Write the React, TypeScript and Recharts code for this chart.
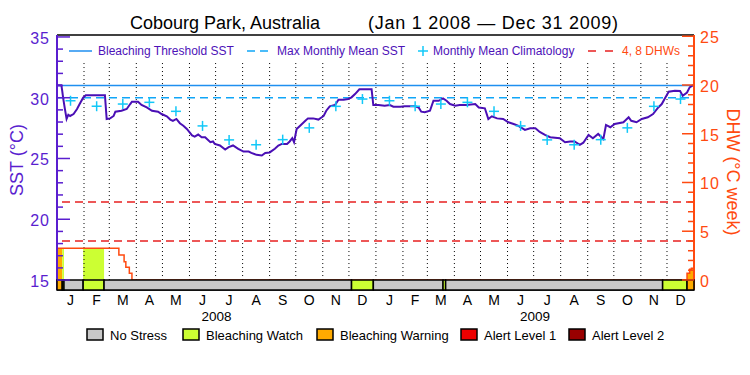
import React from "react";
import {
  Area,
  ComposedChart,
  Line,
  ReferenceArea,
  ReferenceLine,
  XAxis,
  YAxis,
} from "recharts";

// calendar
const monthLetters = ["J", "F", "M", "A", "M", "J", "J", "A", "S", "O", "N", "D"];
const monthDays2008 = [31, 29, 31, 30, 31, 30, 31, 31, 30, 31, 30, 31];
const monthDays2009 = [31, 28, 31, 30, 31, 30, 31, 31, 30, 31, 30, 31];
const yearLabels = ["2008", "2009"];

// daily SST (day offset from Jan 1 2008)
const sstDays = [
  0, 5, 6, 7, 9, 11, 13, 15, 19, 23, 26, 30, 33, 55, 57, 61, 65, 67, 74, 80, 84, 86, 93, 97,
  103, 109, 116, 120, 126, 130, 133, 137, 141, 145, 149, 155, 158, 162, 166, 170, 176, 179,
  181, 187, 193, 197, 202, 208, 214, 220, 223, 229, 235, 239, 244, 250, 254, 258, 264, 267,
  270, 272, 275, 279, 285, 288, 294, 300, 306, 309, 313, 319, 323, 329, 334, 338, 342, 347,
  361, 363, 369, 376, 382, 386, 394, 399, 411, 415, 418, 422, 428, 432, 438, 443, 447, 451,
  457, 462, 470, 480, 484, 491, 495, 499, 505, 512, 518, 524, 529, 537, 543, 549, 554, 560,
  566, 577, 583, 589, 594, 600, 604, 610, 615, 621, 627, 630, 635, 640, 650, 656, 659, 665,
  671, 678, 684, 690, 694, 698, 702, 709, 715, 718, 723, 726, 730,
];
const sstValues = [
  31.03, 31.03, 30.57, 30.0, 29.1, 28.25, 28.6, 28.5, 28.66, 29.07, 29.48, 30.0, 30.2, 30.2,
  28.25, 28.3, 28.5, 28.85, 28.93, 29.07, 29.48, 29.67, 29.67, 29.4, 29.2, 28.93, 28.85,
  28.66, 28.47, 28.2, 28.1, 28.25, 27.9, 27.7, 27.43, 26.9, 26.8, 26.97, 26.75, 26.75, 26.34,
  26.4, 26.2, 26.07, 25.74, 25.93, 26.07, 25.8, 25.57, 25.57, 25.46, 25.3, 25.25, 25.46, 25.5,
  25.8, 26.07, 26.2, 26.2, 26.4, 26.67, 26.34, 27.43, 27.7, 28.1, 28.3, 28.3, 28.2, 28.5,
  28.93, 29.29, 29.4, 29.84, 29.84, 29.9, 30.03, 30.3, 30.7, 30.7, 29.4, 29.4, 29.34, 29.4,
  29.26, 29.26, 29.3, 29.3, 29.2, 28.85, 28.8, 28.93, 29.75, 29.75, 29.95, 29.75, 29.48,
  29.34, 29.4, 29.4, 29.48, 29.2, 29.13, 28.25, 28.47, 28.3, 28.25, 27.98, 27.84, 27.7,
  27.35, 27.48, 27.48, 27.18, 26.94, 26.75, 26.67, 26.34, 26.4, 26.4, 26.12, 26.3, 26.94,
  26.67, 27.02, 26.6, 27.76, 27.57, 27.84, 27.98, 28.39, 28.1, 27.98, 28.25, 28.39, 28.66,
  29.2, 29.48, 30.0, 30.5, 30.57, 30.55, 30.16, 30.43, 30.85, 31.03,
];

// monthly mean climatology, Jan..Dec
const climatology = [29.75, 29.3, 29.48, 29.62, 28.88, 27.68, 26.53, 26.13, 26.55, 27.52, 29.29, 29.89];

// degree heating weeks
const dhwDays = [0, 71, 77, 79, 83, 86, 723, 726, 728, 731];
const dhwValues = [3.25, 2.56, 1.88, 1.3, 0.69, 0, 0.69, 1.1, 1.2, 1.2];

// stress level periods (start day, level 0..4)
const stressStart = [0, 6, 8, 30, 54, 338, 363, 443, 446, 695, 723];
const stressLevel = [2, 1, 0, 1, 0, 1, 0, 1, 0, 1, 2];
const stressNames = ["No Stress", "Bleaching Watch", "Bleaching Warning", "Alert Level 1", "Alert Level 2"];

const bleachingThreshold = 31.0;
const maxMonthlyMean = 30.0;
const dhwLines = [4, 8];

const sstTicks = [15, 16, 17, 18, 19, 20, 21, 22, 23, 24, 25, 26, 27, 28, 29, 30, 31, 32, 33, 34, 35];
const dhwTicks = [0, 1, 2, 3, 4, 5, 6, 7, 8, 9, 10, 11, 12, 13, 14, 15, 16, 17, 18, 19, 20, 21, 22, 23, 24, 25];

// styling / layout
const W = 750;
const H = 375;
const DAYS = 731;
const SST_MIN = 14.18;
const SST_MAX = 35.16;
const DHW_MIN = -1.03;
const DHW_MAX = 25.13;
const DOT_TOP = 32.86;
const FONT = "'Liberation Sans', Arial, sans-serif";

const PURPLE = "#5a1ecf";
const SST_LINE = "#4a0fb5";
const LEGEND_PURPLE = "#4d12b8";
const BLUE = "#1f8ff0";
const MMM_BLUE = "#10a6f8";
const CYAN = "#12c8f8";
const ORANGE_RED = "#ff4a10";
const RED = "#e82020";
const stressColors = ["#c8c8c8", "#ccff33", "#ffaa00", "#ee0000", "#990000"];

const monthLengths = [...monthDays2008, ...monthDays2009];
const monthStarts = monthLengths.map((_, i) => monthLengths.slice(0, i).reduce((a, b) => a + b, 0));
const monthMids = monthStarts.map((s, i) => s + monthLengths[i] / 2);
const yearLen = [monthDays2008, monthDays2009].map((m) => m.reduce((a, b) => a + b, 0));
const yearMids = [yearLen[0] / 2, yearLen[0] + yearLen[1] / 2];

const sstData = sstDays.map((d, i) => ({ day: d, sst: sstValues[i] }));
const climData = monthMids.map((d, i) => ({ day: d, clim: climatology[i % 12] }));
const dhwData = dhwDays.map((d, i) => ({ day: d, dhw: dhwValues[i] }));

function dhwAt(day: number, inclusive: boolean) {
  let v = dhwValues[0];
  dhwDays.forEach((d, i) => {
    if (inclusive ? d <= day : d < day) v = dhwValues[i];
  });
  return v;
}

const stressPeriods = stressStart.map((s, i) => {
  const e = i + 1 < stressStart.length ? stressStart[i + 1] : DAYS;
  return { start: s, end: e, level: stressLevel[i] };
});

// colour under the DHW curve where stress level > 0
const stressFills = stressPeriods
  .filter((p) => p.level > 0)
  .map((p) => ({
    level: p.level,
    data: [
      { day: p.start, dhw: dhwAt(p.start, true) },
      ...dhwDays.filter((d) => d > p.start && d < p.end).map((d) => ({ day: d, dhw: dhwAt(d, true) })),
      { day: p.end, dhw: dhwAt(p.end, false) },
    ],
  }));

function SstTick(props: any) {
  const { x, y, payload } = props;
  const major = payload.value % 5 === 0;
  return (
    <g>
      <line x1={x + 7} x2={x + 7 + (major ? 13 : 6)} y1={y} y2={y} stroke={PURPLE} strokeWidth={1.5} />
      {major && (
        <text x={x} y={y + 7} textAnchor="end" fill={PURPLE} fontSize={16} fontFamily={FONT} letterSpacing={1}>
          {payload.value}
        </text>
      )}
    </g>
  );
}

function DhwTick(props: any) {
  const { x, y, payload } = props;
  const major = payload.value % 5 === 0;
  return (
    <g>
      <line x1={x - 6 - (major ? 12 : 6)} x2={x - 6} y1={y} y2={y} stroke={ORANGE_RED} strokeWidth={1.5} />
      {major && (
        <text x={x} y={y + 7} textAnchor="start" fill={ORANGE_RED} fontSize={16} fontFamily={FONT} letterSpacing={1}>
          {payload.value}
        </text>
      )}
    </g>
  );
}

function MonthTick(props: any) {
  const { x, y, index } = props;
  return (
    <text x={x} y={y + 15} textAnchor="middle" fill="#000" fontSize={14} fontFamily={FONT}>
      {monthLetters[index % 12]}
    </text>
  );
}

function YearTick(props: any) {
  const { x, y, index } = props;
  return (
    <text x={x} y={y + 11} textAnchor="middle" fill="#000" fontSize={13.5} fontFamily={FONT}>
      {yearLabels[index]}
    </text>
  );
}

function PlusDot(props: any) {
  const { cx, cy, index } = props;
  if (cx == null || cy == null) return <g key={`p${index}`} />;
  return (
    <g key={`p${index}`}>
      <line x1={cx - 5} x2={cx + 5} y1={cy} y2={cy} stroke={CYAN} strokeWidth={1.5} />
      <line x1={cx} x2={cx} y1={cy - 5} y2={cy + 5} stroke={CYAN} strokeWidth={1.5} />
    </g>
  );
}

function Overlay() {
  const boxX = [87, 183, 317, 461, 569];
  return (
    <svg width={W} height={H} style={{ position: "absolute", left: 0, top: 0, pointerEvents: "none" }}>
      <text x={130} y={29} fontSize={18} fontFamily={FONT} fill="#000">Cobourg Park, Australia</text>
      <text x={368} y={29} fontSize={18} fontFamily={FONT} fill="#000" textLength={250}>
        (Jan 1 2008 — Dec 31 2009)
      </text>

      <line x1={69} x2={92} y1={51} y2={51} stroke={BLUE} strokeWidth={1.5} />
      <text x={98} y={55} fontSize={12} fontFamily={FONT} fill={LEGEND_PURPLE}>Bleaching Threshold SST</text>
      <line x1={247} x2={268} y1={51} y2={51} stroke={MMM_BLUE} strokeWidth={1.5} strokeDasharray="8 5" />
      <text x={277} y={55} fontSize={12} fontFamily={FONT} fill={LEGEND_PURPLE}>Max Monthly Mean SST</text>
      <line x1={418} x2={428} y1={51} y2={51} stroke={CYAN} strokeWidth={1.5} />
      <line x1={423} x2={423} y1={46} y2={56} stroke={CYAN} strokeWidth={1.5} />
      <text x={433} y={55} fontSize={12} fontFamily={FONT} fill={LEGEND_PURPLE}>Monthly Mean Climatology</text>
      <line x1={588} x2={613} y1={51} y2={51} stroke={RED} strokeWidth={1.5} strokeDasharray="8 9" />
      <text x={622} y={55} fontSize={12} fontFamily={FONT} fill={ORANGE_RED}>4, 8 DHWs</text>

      <text transform="rotate(-90 17 160)" x={17} y={160} textAnchor="middle" dominantBaseline="central" fontSize={18} fontFamily={FONT} fill={PURPLE}>
        SST (°C)
      </text>
      <text transform="rotate(90 733 172)" x={733} y={172} textAnchor="middle" dominantBaseline="central" fontSize={18} fontFamily={FONT} fill={ORANGE_RED}>
        DHW (°C week)
      </text>

      {stressNames.map((name, i) => (
        <g key={name}>
          <rect x={boxX[i]} y={329} width={16} height={11} fill={stressColors[i]} stroke="#000" strokeWidth={1.5} />
          <text x={boxX[i] + 23} y={340} fontSize={13} fontFamily={FONT} fill="#000">{name}</text>
        </g>
      ))}
    </svg>
  );
}

export default function App() {
  return (
    <div style={{ position: "absolute", left: 0, top: 0, width: W, height: H, background: "#fff" }}>
      <ComposedChart width={W} height={H} margin={{ top: 35, right: 55, bottom: 45, left: 56 }}>
        <XAxis
          type="number"
          dataKey="day"
          domain={[0, DAYS]}
          allowDataOverflow
          ticks={monthMids}
          interval={0}
          tick={MonthTick}
          tickLine={false}
          tickSize={0}
          tickMargin={0}
          axisLine={{ stroke: "#000", strokeWidth: 1.5 }}
          height={20}
        />
        <XAxis
          xAxisId="year"
          type="number"
          dataKey="day"
          domain={[0, DAYS]}
          allowDataOverflow
          ticks={yearMids}
          interval={0}
          tick={YearTick}
          tickLine={false}
          tickSize={0}
          tickMargin={0}
          axisLine={false}
          height={20}
        />
        <YAxis
          yAxisId="sst"
          orientation="left"
          type="number"
          domain={[SST_MIN, SST_MAX]}
          allowDataOverflow
          ticks={sstTicks}
          interval={0}
          width={1}
          tickSize={0}
          tickMargin={7}
          tickLine={false}
          tick={SstTick}
          axisLine={{ stroke: PURPLE, strokeWidth: 2 }}
        />
        <YAxis
          yAxisId="dhw"
          orientation="right"
          type="number"
          domain={[DHW_MIN, DHW_MAX]}
          allowDataOverflow
          ticks={dhwTicks}
          interval={0}
          width={1}
          tickSize={0}
          tickMargin={6}
          tickLine={false}
          tick={DhwTick}
          axisLine={{ stroke: ORANGE_RED, strokeWidth: 2 }}
        />

        <ReferenceLine yAxisId="sst" y={SST_MAX} stroke="#000" strokeWidth={1.5} ifOverflow="visible" />
        {monthStarts.slice(1).map((d) => (
          <ReferenceLine
            key={`m${d}`}
            yAxisId="sst"
            segment={[{ x: d, y: 15 }, { x: d, y: DOT_TOP }]}
            stroke="#000"
            strokeDasharray="1 3"
          />
        ))}
        {dhwLines.map((v) => (
          <ReferenceLine key={`d${v}`} yAxisId="dhw" y={v} stroke={RED} strokeWidth={1.5} strokeDasharray="8 5" />
        ))}
        <ReferenceLine yAxisId="sst" y={maxMonthlyMean} stroke={MMM_BLUE} strokeWidth={1.5} strokeDasharray="8 5" />
        <ReferenceLine yAxisId="sst" y={bleachingThreshold} stroke={BLUE} strokeWidth={1.5} />

        {stressFills.map((f, i) => (
          <Area
            key={`f${i}`}
            yAxisId="dhw"
            data={f.data}
            dataKey="dhw"
            type="stepAfter"
            stroke="none"
            fill={stressColors[f.level]}
            fillOpacity={1}
            baseValue={0}
            dot={false}
            activeDot={false}
            isAnimationActive={false}
          />
        ))}
        <Line
          yAxisId="dhw"
          data={dhwData}
          dataKey="dhw"
          type="stepAfter"
          stroke={ORANGE_RED}
          strokeWidth={1.5}
          dot={false}
          activeDot={false}
          isAnimationActive={false}
        />
        <Line
          yAxisId="sst"
          data={sstData}
          dataKey="sst"
          type="linear"
          stroke={SST_LINE}
          strokeWidth={2}
          dot={false}
          activeDot={false}
          isAnimationActive={false}
        />
        <Line
          yAxisId="sst"
          data={climData}
          dataKey="clim"
          stroke="none"
          dot={PlusDot}
          activeDot={false}
          isAnimationActive={false}
        />
        {stressPeriods.map((p) => (
          <ReferenceArea
            key={`s${p.start}`}
            yAxisId="dhw"
            x1={p.start}
            x2={p.end}
            y1={DHW_MIN}
            y2={0}
            fill={stressColors[p.level]}
            fillOpacity={1}
            stroke="#000"
            strokeWidth={1.5}
            zIndex={700}
          />
        ))}
      </ComposedChart>
      <Overlay />
    </div>
  );
}
